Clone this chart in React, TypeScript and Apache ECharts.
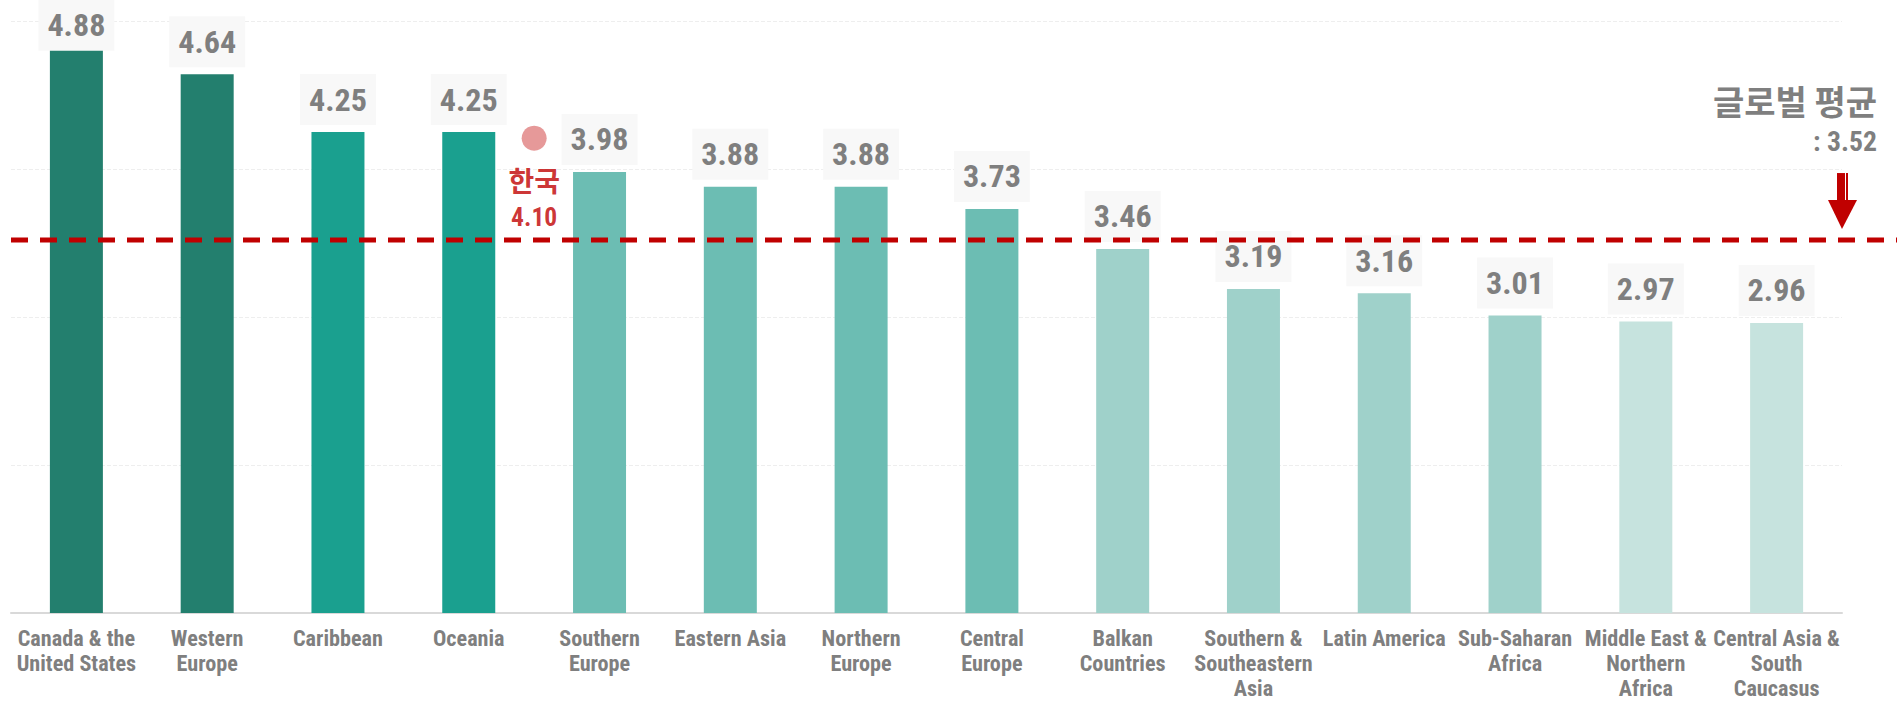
import React, { useEffect, useRef } from "react";
import * as echarts from "echarts";

const categories = [
  "Canada & the\nUnited States",
  "Western\nEurope",
  "Caribbean",
  "Oceania",
  "Southern\nEurope",
  "Eastern Asia",
  "Northern\nEurope",
  "Central\nEurope",
  "Balkan\nCountries",
  "Southern &\nSoutheastern\nAsia",
  "Latin America",
  "Sub-Saharan\nAfrica",
  "Middle East &\nNorthern\nAfrica",
  "Central Asia &\nSouth\nCaucasus",
];

const scores = [4.88, 4.64, 4.25, 4.25, 3.98, 3.88, 3.88, 3.73, 3.46, 3.19, 3.16, 3.01, 2.97, 2.96];

const barColors = [
  "#237f6e", "#237f6e",
  "#1aa08f", "#1aa08f",
  "#6cbdb3", "#6cbdb3", "#6cbdb3", "#6cbdb3",
  "#9fd1ca", "#9fd1ca", "#9fd1ca", "#9fd1ca",
  "#c6e3de", "#c6e3de",
];

const GLOBAL_AVG = 3.52;
const GLOBAL_LABEL = "글로벌 평균";
const KOREA_NAME = "한국";
const KOREA_SCORE = 4.1;
const KOREA_SLOT = 3.5; // between Oceania and Southern Europe

const Y_MIN = 1;
const Y_MAX = 5;
const Y_STEP = 1;

const GRAY = "#7f7f7f";
const RED = "#c00000";
const KR = "'Noto Sans CJK KR', sans-serif";

const NARROW_CANDIDATES = [
  "Liberation Sans Narrow",
  "Arial Narrow",
  "Roboto Condensed",
  "DejaVu Sans Condensed",
  "Open Sans Condensed",
];

function pickNarrow(ctx: CanvasRenderingContext2D): { family: string; weight: string } {
  const probe = "Canada & the 4.88 mmmWWiil";
  const w = (font: string) => {
    ctx.font = font;
    return ctx.measureText(probe).width;
  };
  for (const name of NARROW_CANDIDATES) {
    const ok = ["monospace", "serif"].some(
      (fb) => Math.abs(w(`bold 100px ${fb}`) - w(`bold 100px "${name}", ${fb}`)) > 0.5
    );
    if (ok) return { family: `"${name}", "Liberation Sans", sans-serif`, weight: "bold" };
  }
  return { family: `"Liberation Sans", Arial, sans-serif`, weight: "bold" };
}

function fitSize(ctx: CanvasRenderingContext2D, text: string, weight: string, family: string, target: number) {
  ctx.font = `${weight} 100px ${family}`;
  const wid = ctx.measureText(text).width;
  return Math.round(((100 * target) / wid) * 10) / 10;
}

export default function App() {
  const ref = useRef<HTMLDivElement>(null);

  useEffect(() => {
    if (!ref.current) return;
    const canvas = document.createElement("canvas");
    const ctx = canvas.getContext("2d")!;
    const { family: NARROW, weight: NW } = pickNarrow(ctx);
    const axisSize = fitSize(ctx, "Middle East &", NW, NARROW, 122);
    const valueSize = fitSize(ctx, "3.46", NW, NARROW, 58);
    const koreaValSize = fitSize(ctx, "4.10", NW, NARROW, 46);
    const avgSize = fitSize(ctx, ": 3.52", NW, NARROW, 64);

    const chart = echarts.init(ref.current, undefined, { renderer: "svg" });
    const W = 1897;
    const gridLeft = 11;
    const gridRight = 55;

    chart.setOption({
      animation: false,
      backgroundColor: "#ffffff",
      grid: {
        left: gridLeft,
        right: gridRight,
        top: 21,
        bottom: 91,
        containLabel: false,
        outerBoundsMode: "none",
      },
      xAxis: [
        {
          type: "category",
          data: categories,
          axisTick: { show: false },
          axisLine: { lineStyle: { color: "#d9d9d9", width: 2 } },
          axisLabel: {
            interval: 0,
            color: GRAY,
            fontFamily: NARROW,
            fontWeight: NW,
            fontSize: axisSize,
            lineHeight: 25,
            margin: 12,
          },
        },
        { type: "value", min: -0.5, max: categories.length - 0.5, show: false },
      ],
      yAxis: {
        type: "value",
        min: Y_MIN,
        max: Y_MAX,
        interval: Y_STEP,
        axisLabel: { show: false },
        axisLine: { show: false },
        axisTick: { show: false },
        splitLine: { show: true, lineStyle: { color: "#eeeeee", type: "dashed", width: 1 } },
      },
      series: [
        {
          type: "bar",
          xAxisIndex: 0,
          barWidth: 53,
          data: scores.map((v, i) => ({
            value: v,
            itemStyle: { color: barColors[i] },
            label: i === 0 ? { distance: -12 } : undefined,
          })),
          label: {
            show: true,
            position: "top",
            distance: 7,
            formatter: (p: any) => Number(p.value).toFixed(2),
            color: GRAY,
            fontFamily: NARROW,
            fontWeight: NW,
            fontSize: valueSize,
            lineHeight: 39,
            backgroundColor: "#f8f8f8",
            padding: [6, 9, 6, 9],
          },
        },
        {
          type: "scatter",
          xAxisIndex: 1,
          yAxisIndex: 0,
          z: 5,
          symbol: "circle",
          symbolSize: 25,
          symbolOffset: [0, -16],
          itemStyle: { color: "#e08080" },
          data: [[KOREA_SLOT, KOREA_SCORE]],
          label: {
            show: true,
            position: "bottom",
            distance: 11,
            formatter: () => `{a|${KOREA_NAME}}\n{b|${KOREA_SCORE.toFixed(2)}}`,
            rich: {
              a: { color: RED, fontFamily: KR, fontWeight: "bold", fontSize: 28, lineHeight: 37 },
              b: { color: RED, fontFamily: NARROW, fontWeight: NW, fontSize: koreaValSize, lineHeight: 37 },
            },
          },
        },
      ],
    });

    const yAvg = chart.convertToPixel({ yAxisIndex: 0 }, GLOBAL_AVG) as number;
    const arrowX = W - gridRight;
    const tipY = yAvg - 11;

    chart.setOption({
      graphic: [
        {
          type: "line",
          z: 10,
          shape: { x1: gridLeft, y1: yAvg, x2: W, y2: yAvg },
          style: { stroke: RED, lineWidth: 5, lineDash: [17, 12] },
        },
        {
          type: "text",
          right: W - 1877,
          top: 83,
          style: {
            text: GLOBAL_LABEL,
            fill: GRAY,
            font: `bold 34px ${KR}`,
          },
        },
        {
          type: "text",
          right: W - 1877,
          top: 127,
          style: {
            text: `: ${GLOBAL_AVG.toFixed(2)}`,
            fill: GRAY,
            font: `${NW} ${avgSize}px ${NARROW}`,
          },
        },
        {
          type: "rect",
          z: 11,
          shape: { x: arrowX - 5, y: tipY - 56, width: 8, height: 30 },
          style: { fill: RED },
        },
        {
          type: "rect",
          z: 11,
          shape: { x: arrowX + 4, y: tipY - 56, width: 2, height: 30 },
          style: { fill: RED },
        },
        {
          type: "polygon",
          z: 11,
          shape: {
            points: [
              [arrowX - 14, tipY - 29],
              [arrowX + 15, tipY - 29],
              [arrowX, tipY],
            ],
          },
          style: { fill: RED },
        },
      ],
    });

    return () => chart.dispose();
  }, []);

  return (
    <div
      ref={ref}
      style={{ position: "fixed", left: 0, top: 0, width: 1897, height: 704, background: "#fff" }}
    />
  );
}
